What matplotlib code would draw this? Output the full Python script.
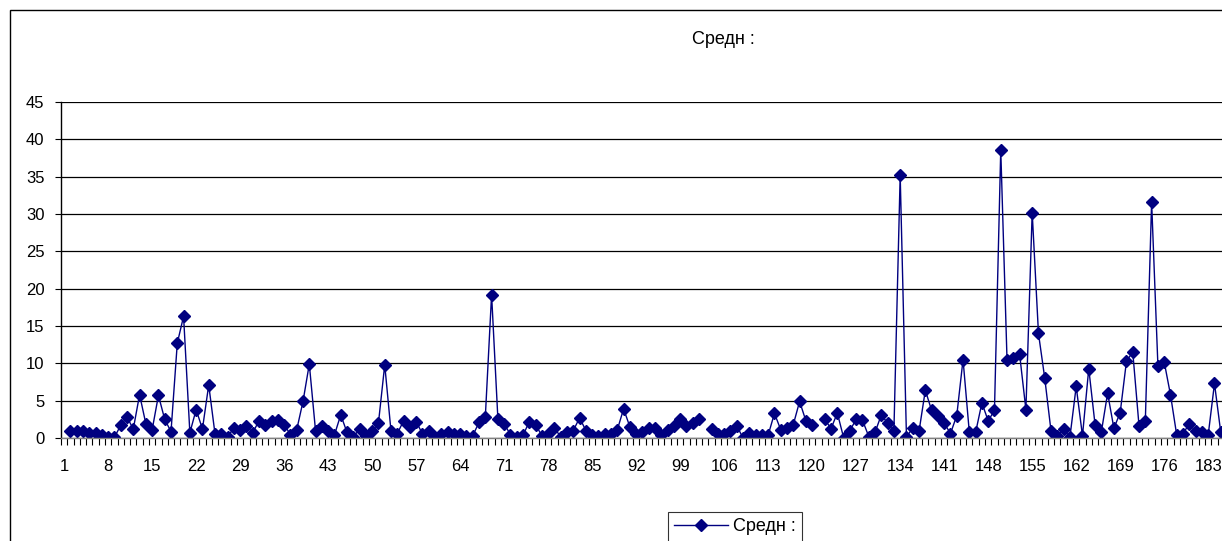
import numpy as np
import matplotlib
matplotlib.use("Agg")
import matplotlib.pyplot as plt
from matplotlib.patches import Rectangle
from matplotlib.ticker import FixedLocator

plt.rcParams['font.family'] = ['Liberation Sans', 'DejaVu Sans']

TITLE = "Средн :"
SERIES_NAME = "Средн :"

# category 1 is empty, gaps at 103 and 121
values = [
    np.nan, 1.0, 1.0, 1.0, 0.65, 0.65, 0.45, 0.1, 0.1, 1.7,      # 1-10
    2.8, 1.2, 5.8, 1.9, 1.1, 5.7, 2.5, 0.85, 12.7, 16.3,          # 11-20
    0.7, 3.8, 1.2, 7.1, 0.55, 0.6, 0.2, 1.3, 1.1, 1.65,           # 21-30
    0.7, 2.3, 1.8, 2.3, 2.4, 1.8, 0.45, 1.1, 4.9, 9.9,            # 31-40
    0.9, 1.65, 1.0, 0.4, 3.1, 0.75, 0.2, 1.15, 0.3, 0.9,          # 41-50
    2.0, 9.8, 0.9, 0.6, 2.3, 1.5, 2.2, 0.55, 1.0, 0.2,            # 51-60
    0.6, 0.75, 0.6, 0.6, 0.3, 0.3, 2.1, 2.8, 19.2, 2.6,           # 61-70
    1.9, 0.45, 0.1, 0.35, 2.2, 1.8, 0.3, 0.5, 1.4, 0.1,           # 71-80
    0.75, 1.0, 2.7, 1.0, 0.45, 0.3, 0.6, 0.6, 1.1, 3.9,           # 81-90
    1.5, 0.5, 0.75, 1.3, 1.4, 0.45, 1.1, 1.65, 2.5, 1.65,         # 91-100
    2.0, 2.5, np.nan, 1.2, 0.6, 0.6, 0.9, 1.65, 0.0, 0.7,         # 101-110
    0.45, 0.4, 0.4, 3.3, 1.1, 1.3, 1.8, 4.9, 2.3, 1.7,            # 111-120
    np.nan, 2.5, 1.25, 3.35, 0.05, 1.0, 2.5, 2.4, 0.2, 0.75,      # 121-130
    3.1, 2.0, 0.9, 35.2, 0.1, 1.4, 0.9, 6.4, 3.7, 3.0,            # 131-140
    2.0, 0.6, 3.0, 10.5, 0.75, 0.75, 4.7, 2.3, 3.7, 38.6,         # 141-150
    10.4, 10.7, 11.2, 3.8, 30.2, 14.0, 8.0, 0.9, 0.3, 1.2,        # 151-160
    0.1, 6.9, 0.3, 9.3, 1.8, 0.8, 6.0, 1.3, 3.4, 10.3,            # 161-170
    11.5, 1.6, 2.3, 31.6, 9.7, 10.2, 5.8, 0.35, 0.6, 1.9,         # 171-180
    0.9, 0.75, 0.4, 7.3, 0.75,                                    # 181-185
]
categories = np.arange(1, len(values) + 1)
n_slots = 190  # plot area runs past the right edge of the picture

W, H = 1222, 541
fig = plt.figure(figsize=(W / 100, H / 100), dpi=100)

# chart border (cut off at right and bottom)
fig.patches.append(Rectangle((10 / W, -0.2), 1.2, 1 - 10 / H + 0.2,
                             transform=fig.transFigure, fill=False,
                             ec='black', lw=1.0))

left = 61 / W
bottom = 1 - 438 / H
top = 1 - 102 / H
ax = fig.add_axes([left, bottom, n_slots * 6.286 / W, top - bottom])

line, = ax.plot(categories, values, color='#000080', lw=1.0,
                marker='D', markersize=6.2, markerfacecolor='#000080',
                markeredgecolor='#000080', label=SERIES_NAME)

ax.set_xlim(0.5, n_slots + 0.5)
ax.set_ylim(0, 45)
ax.set_yticks(np.arange(0, 46, 5))
ax.yaxis.grid(True, color='black', lw=0.9)
ax.set_axisbelow(True)

ax.set_xticks(np.arange(1, n_slots + 1, 7))
ax.xaxis.set_minor_locator(FixedLocator(np.arange(0.5, n_slots + 1, 1)))
ax.tick_params(axis='x', which='major', length=0, pad=15, labelsize=12)
ax.tick_params(axis='x', which='minor', length=5, width=0.8, direction='out')
ax.tick_params(axis='y', length=4, width=0.8, direction='out', labelsize=12, pad=8)

for s in ['top', 'right']:
    ax.spines[s].set_visible(False)
ax.spines['left'].set_linewidth(1.0)
ax.spines['bottom'].set_linewidth(1.0)
ax.spines['bottom'].set_color('#808080')

fig.text(723 / W, 1 - 40 / H, TITLE, ha='center', va='center', fontsize=13)

leg = fig.legend(handles=[line], loc='upper center',
                 bbox_to_anchor=(735 / W, 1 - 512 / H), borderaxespad=0,
                 fontsize=13, frameon=True, fancybox=False, edgecolor='black',
                 handlelength=3.0, borderpad=0.35, handletextpad=0.3)
leg.get_frame().set_linewidth(0.8)

fig.savefig("out.png", dpi=100)
